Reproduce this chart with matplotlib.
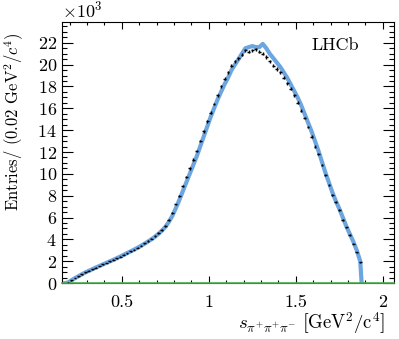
import numpy as np
import matplotlib
matplotlib.use("Agg")
import matplotlib.pyplot as plt
from matplotlib.ticker import MultipleLocator, ScalarFormatter

plt.rcParams['font.family'] = 'serif'
plt.rcParams['font.serif'] = ['cmr10']
plt.rcParams['mathtext.fontset'] = 'cm'
plt.rcParams['axes.unicode_minus'] = False
plt.rcParams['axes.formatter.use_mathtext'] = True

# bin centres of the 0.02 GeV^2 bins
s_lo = 0.18
bin_w = 0.02

# data, in thousands of entries
data_k = [0.05, 0.25, 0.45, 0.62, 0.80, 0.97, 1.12, 1.27, 1.42, 1.56,
          1.70, 1.84, 1.98, 2.12, 2.27, 2.42, 2.58, 2.74, 2.90, 3.06,
          3.24, 3.43, 3.63, 3.84, 4.06, 4.30, 4.57, 4.88, 5.25, 5.75,
          6.40, 7.20, 8.00, 8.85, 9.70, 10.5, 11.3, 12.1, 13.0, 13.9,
          14.8, 15.6, 16.4, 17.2, 18.0, 18.7, 19.3, 19.9, 20.3, 20.6,
          20.9, 21.3, 21.2, 21.3, 21.4, 21.2, 21.0, 20.7, 20.3, 19.9,
          19.6, 19.3, 18.8, 18.3, 17.8, 17.2, 16.5, 15.8, 15.1, 14.3,
          13.4, 12.5, 11.8, 10.8, 9.9, 9.0, 8.1, 7.4, 6.7, 5.8,
          5.1, 4.4, 3.6, 2.8, 1.9]

# fit model, same centres plus the two end points
model_k = [0.0,
           0.05, 0.25, 0.45, 0.62, 0.80, 0.97, 1.12, 1.27, 1.42, 1.56,
           1.70, 1.84, 1.98, 2.12, 2.27, 2.42, 2.58, 2.74, 2.90, 3.06,
           3.23, 3.41, 3.60, 3.80, 4.01, 4.24, 4.50, 4.80, 5.15, 5.60,
           6.15, 6.85, 7.60, 8.40, 9.20, 10.0, 10.8, 11.6, 12.5, 13.4,
           14.3, 15.2, 16.0, 16.8, 17.5, 18.2, 18.8, 19.5, 20.0, 20.5,
           21.0, 21.5, 21.6, 21.7, 21.6, 21.6, 21.9, 21.5, 21.0, 20.6,
           20.2, 19.8, 19.3, 18.8, 18.2, 17.6, 17.0, 16.3, 15.5, 14.7,
           13.9, 13.0, 12.1, 11.1, 10.1, 9.2, 8.3, 7.5, 6.8, 6.0,
           5.2, 4.5, 3.8, 3.0, 2.0,
           0.0]

centers = s_lo + bin_w / 2 + bin_w * np.arange(len(data_k))
counts = np.array(data_k) * 1e3
model_s = np.concatenate([[0.175], centers, [1.878]])
model = np.array(model_k) * 1e3

x_range = (0.155, 2.063)

fig = plt.figure(figsize=(3.99, 3.39), dpi=100)
ax = fig.add_axes([0.155, 0.165, 0.832, 0.770])

ax.plot(model_s, model, color='#6ca6e0', lw=3.0, solid_joinstyle='round', zorder=2)
ax.plot(x_range, [0, 0], color='#4caf50', lw=1.2, zorder=3, clip_on=False)
ax.errorbar(centers, counts, xerr=bin_w / 2 * 0.8, yerr=np.sqrt(counts),
            fmt='none', ecolor='black', elinewidth=1.0, zorder=4)

ax.set_xlim(*x_range)
ax.set_ylim(0, 23900)

ax.xaxis.set_major_locator(MultipleLocator(0.5))
ax.xaxis.set_minor_locator(MultipleLocator(0.1))
ax.yaxis.set_major_locator(MultipleLocator(2000))
ax.yaxis.set_minor_locator(MultipleLocator(500))
ax.xaxis.set_major_formatter(matplotlib.ticker.FuncFormatter(lambda v, p: f'{v:g}'))
fmt = ScalarFormatter(useMathText=True)
fmt.set_powerlimits((3, 3))
ax.yaxis.set_major_formatter(fmt)

ax.tick_params(which='both', direction='in', top=True, right=True, width=0.8,
               labelsize=13)
ax.tick_params(axis='y', which='major', length=7.7)
ax.tick_params(axis='y', which='minor', length=3.6)
ax.tick_params(axis='x', which='major', length=5, pad=8)
ax.tick_params(axis='x', which='minor', length=2.5)
ax.yaxis.get_offset_text().set_fontsize(13)
for sp in ax.spines.values():
    sp.set_linewidth(0.8)

ax.set_xlabel(r'$s_{\pi^{+}\pi^{+}\pi^{-}}\ \left[\mathrm{GeV}^{2}/\mathrm{c}^{4}\right]$',
              fontsize=13.5, ha='right')
ax.xaxis.set_label_coords(0.975, -0.105)
ax.set_ylabel(r'Entries/ (0.02 GeV$^{2}$/$c^{4}$)', fontsize=12, loc='top')
ax.yaxis.set_label_coords(-0.108, 0.96)

ax.text(0.825, 0.912, 'LHCb', transform=ax.transAxes, fontsize=13,
        ha='center', va='center')

fig.savefig('out.png', dpi=100)
